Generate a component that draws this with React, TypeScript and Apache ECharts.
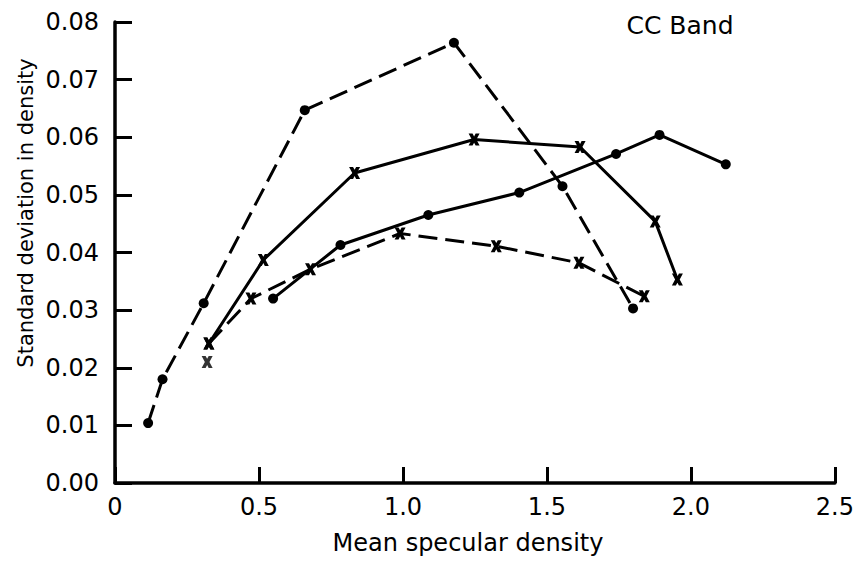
import React, { useEffect, useRef } from "react";
import * as echarts from "echarts";

// Series A: dashed line, dot markers (large peak)
const aX = [0.115, 0.165, 0.308, 0.659, 1.177, 1.554, 1.799];
const aY = [0.0104, 0.018, 0.0312, 0.0647, 0.0764, 0.0515, 0.0303];
// Series B: solid line, x markers (upper)
const bX = [0.326, 0.515, 0.832, 1.247, 1.615, 1.876, 1.953];
const bY = [0.0242, 0.0387, 0.0538, 0.0596, 0.0583, 0.0454, 0.0353];
// Series C: solid line, dot markers
const cX = [0.549, 0.783, 1.088, 1.404, 1.74, 1.891, 2.121];
const cY = [0.032, 0.0413, 0.0465, 0.0504, 0.0571, 0.0604, 0.0553];
// Series D: dashed line, x markers (lower)
const dX = [0.326, 0.472, 0.679, 0.99, 1.324, 1.611, 1.838];
const dY = [0.0242, 0.032, 0.0371, 0.0433, 0.0411, 0.0382, 0.0324];
// Isolated x point
const eX = [0.32];
const eY = [0.021];

const xTicks = [0, 0.5, 1.0, 1.5, 2.0, 2.5];
const yTicks = [0, 0.01, 0.02, 0.03, 0.04, 0.05, 0.06, 0.07, 0.08];

const titleText = "CC Band";
const xName = "Mean specular density";
const yName = "Standard deviation in density";

const FONT = "DejaVu Sans";
const X_SYMBOL =
  "path://M0,0 L3.6,0 L5,2.4 L6.4,0 L10,0 L7.1,5 L10,10 L6.4,10 L5,7.6 L3.6,10 L0,10 L2.9,5 Z";

const pairs = (xs: number[], ys: number[]) => xs.map((x, i) => [x, ys[i]]);

export default function App() {
  const ref = useRef<HTMLDivElement>(null);
  useEffect(() => {
    if (!ref.current) return;
    const chart = echarts.init(ref.current, undefined, { renderer: "svg" });
    const lineBase = (
      name: string,
      xs: number[],
      ys: number[],
      dashed: boolean,
      dot: boolean
    ) => ({
      name,
      type: "line",
      data: pairs(xs, ys),
      symbol: dot ? "circle" : X_SYMBOL,
      symbolSize: dot ? 10 : [11, 12],
      showSymbol: true,
      lineStyle: {
        color: "#000",
        width: 3,
        type: dashed ? [19, 8] : "solid",
      },
      itemStyle: { color: "#000", borderWidth: 0 },
      z: 3,
    });
    chart.setOption({
      animation: false,
      backgroundColor: "#fff",
      grid: { left: 115, right: 18, top: 22, bottom: 88, containLabel: false },
      xAxis: {
        type: "value",
        min: xTicks[0],
        max: xTicks[xTicks.length - 1],
        interval: 0.5,
        axisLine: { show: true, lineStyle: { color: "#000", width: 3.5 } },
        axisTick: { show: true, inside: true, length: 16, lineStyle: { color: "#000", width: 3 } },
        axisLabel: {
          color: "#000",
          fontFamily: FONT,
          fontSize: 24,
          margin: 12,
          formatter: (v: number) => (v === 0 ? "0" : v.toFixed(1)),
        },
        splitLine: { show: false },
      },
      yAxis: {
        type: "value",
        min: yTicks[0],
        max: yTicks[yTicks.length - 1],
        interval: 0.01,
        axisLine: { show: true, lineStyle: { color: "#000", width: 3.5 } },
        axisTick: { show: true, inside: true, length: 17, lineStyle: { color: "#000", width: 3 } },
        axisLabel: {
          color: "#000",
          fontFamily: FONT,
          fontSize: 24,
          margin: 16,
          formatter: (v: number) => v.toFixed(2),
        },
        splitLine: { show: false },
      },
      graphic: [
        {
          type: "text",
          x: 680,
          y: 25,
          style: {
            text: titleText,
            font: `25px "${FONT}"`,
            fill: "#000",
            align: "center",
            verticalAlign: "middle",
          },
        },
        {
          type: "text",
          x: 468,
          y: 543,
          style: {
            text: xName,
            font: `24px "${FONT}"`,
            fill: "#000",
            align: "center",
            verticalAlign: "middle",
          },
        },
        {
          type: "text",
          x: 26,
          y: 213,
          rotation: Math.PI / 2,
          style: {
            text: yName,
            font: `21px "${FONT}"`,
            fill: "#000",
            align: "center",
            verticalAlign: "middle",
          },
        },
      ],
      series: [
        lineBase("A", aX, aY, true, true),
        lineBase("B", bX, bY, false, false),
        lineBase("C", cX, cY, false, true),
        lineBase("D", dX, dY, true, false),
        {
          name: "E",
          type: "scatter",
          data: pairs(eX, eY),
          symbol: X_SYMBOL,
          symbolSize: [11, 12],
          itemStyle: { color: "#000" },
          z: 3,
        },
      ],
    });
    return () => chart.dispose();
  }, []);
  return (
    <div
      ref={ref}
      style={{ position: "fixed", left: 0, top: 0, width: 857, height: 571, background: "#fff" }}
    />
  );
}
